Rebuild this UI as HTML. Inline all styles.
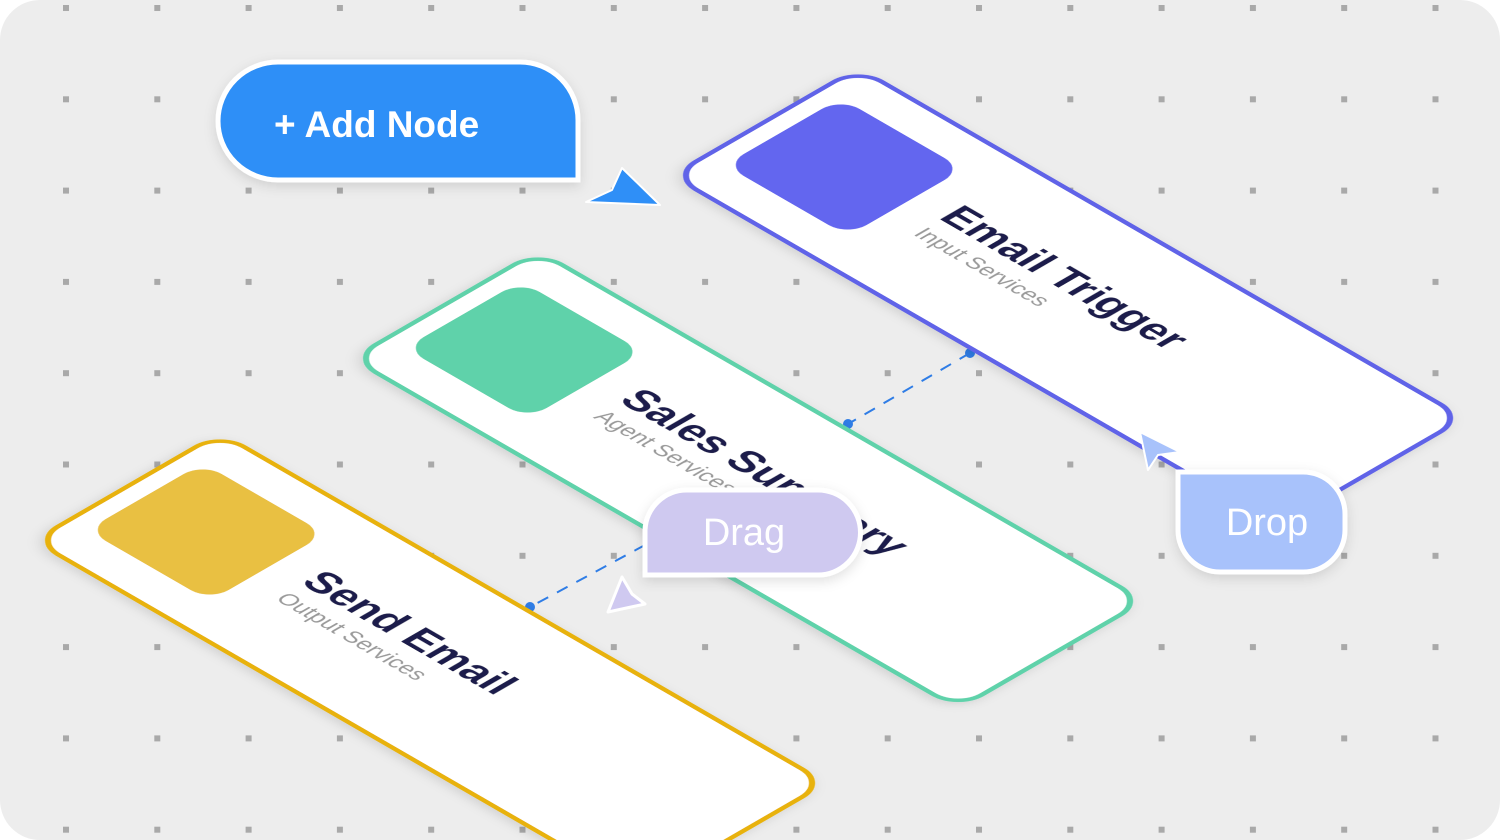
<!DOCTYPE html>
<html><head><style>
html,body{margin:0;padding:0;background:#fff;overflow:hidden;width:1500px;height:840px}
svg{display:block}
text{font-family:"Liberation Sans",sans-serif}
</style></head><body>
<svg width="1500" height="840" viewBox="0 0 1500 840" xmlns="http://www.w3.org/2000/svg">
<defs>
<pattern id="dots" x="63" y="5" width="91.3" height="91.3" patternUnits="userSpaceOnUse">
<rect width="6" height="6" fill="#a9a9a9"/>
</pattern>
<filter id="sh" x="-20%" y="-20%" width="140%" height="140%"><feDropShadow dx="0" dy="4" stdDeviation="6" flood-color="#000" flood-opacity="0.12"/></filter>
</defs>
<rect x="0" y="0" width="1500" height="840" rx="40" fill="#ededed"/>
<rect x="0" y="0" width="1500" height="840" fill="url(#dots)"/>

<line x1="970" y1="353" x2="848" y2="424" stroke="#2f7de6" stroke-width="2" stroke-dasharray="12,10"/>
<circle cx="970" cy="353" r="5" fill="#2f7de6"/>
<circle cx="848" cy="424" r="5" fill="#2f7de6"/>
<line x1="645" y1="545" x2="530" y2="607" stroke="#2f7de6" stroke-width="2" stroke-dasharray="12,10"/>
<circle cx="530" cy="607" r="5" fill="#2f7de6"/>

<g transform="matrix(0.866,0.5,-0.866,0.5,858,68)" filter="url(#sh)">
<rect x="0" y="0" width="700" height="215" rx="28" fill="#fff" stroke="#6063e8" stroke-width="5"/>
<rect x="20" y="40" width="142" height="134" rx="22" fill="#6366ef"/>
<text x="196" y="104" font-size="42" font-weight="bold" fill="#1b1e4b">Email Trigger</text>
<text x="198" y="135" font-size="23" fill="#999">Input Services</text>
</g>

<g transform="matrix(0.866,0.5,-0.866,0.5,538,251)" filter="url(#sh)">
<rect x="0" y="0" width="700" height="215" rx="28" fill="#fff" stroke="#5fd2aa" stroke-width="5"/>
<rect x="20" y="40" width="142" height="134" rx="22" fill="#5fd2aa"/>
<text x="196" y="104" font-size="42" font-weight="bold" fill="#1b1e4b">Sales Summary</text>
<text x="198" y="135" font-size="23" fill="#999">Agent Services</text>
</g>

<g transform="matrix(0.866,0.5,-0.866,0.5,220,433)" filter="url(#sh)">
<rect x="0" y="0" width="700" height="215" rx="28" fill="#fff" stroke="#e8b20f" stroke-width="5"/>
<rect x="20" y="40" width="142" height="134" rx="22" fill="#e9c042"/>
<text x="196" y="104" font-size="42" font-weight="bold" fill="#1b1e4b">Send Email</text>
<text x="198" y="135" font-size="23" fill="#999">Output Services</text>
</g>

<path d="M278,62 H520 A58,58 0 0 1 578,120 V180 H278 A60,59 0 0 1 278,62 Z" fill="#2f8ff7" stroke="#fff" stroke-width="5" filter="url(#sh)"/>
<text x="274" y="137" font-size="37" font-weight="bold" fill="#fff">+ Add Node</text>
<path d="M586,202 L612,190 L622,168 L660,205 Z" fill="#2f8ff7" stroke="#fff" stroke-width="2" stroke-linejoin="round"/>

<path d="M645,575 V530 A42,42 0 0 1 687,490 H818 A42,42 0 0 1 818,575 Z" fill="#cfc9f0" stroke="#fff" stroke-width="5" filter="url(#sh)"/>
<text x="744" y="545" font-size="38" fill="#fff" text-anchor="middle">Drag</text>
<path d="M608,612 L645,604 L632,594 L622,577 Z" fill="#cfc9f0" stroke="#fff" stroke-width="3" stroke-linejoin="round"/>

<path d="M1178,472 H1303 A42,42 0 0 1 1345,514 V530 A42,42 0 0 1 1303,572 H1220 A42,42 0 0 1 1178,530 Z" fill="#a8c2fb" stroke="#fff" stroke-width="5" filter="url(#sh)"/>
<text x="1267" y="535" font-size="38" fill="#fff" text-anchor="middle">Drop</text>
<path d="M1140,432 L1180,452 L1158,455 L1148,470 Z" fill="#a8c2fb" stroke="#fff" stroke-width="2" stroke-linejoin="round"/>
</svg>
</body></html>
